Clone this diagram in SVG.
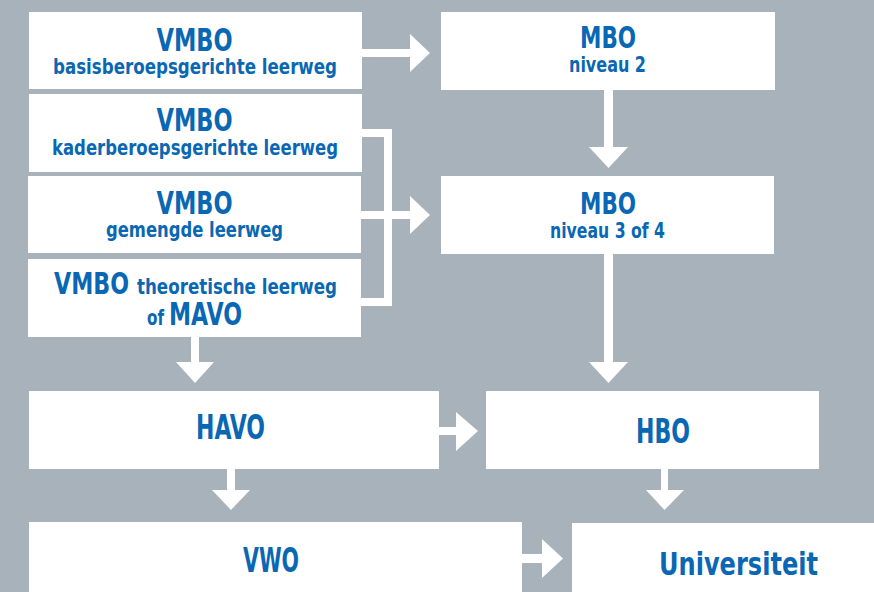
<svg xmlns="http://www.w3.org/2000/svg" width="874" height="592" viewBox="0 0 874 592">
<style>
.box{fill:#ffffff}
.t{font-family:"Liberation Sans Narrow","DejaVu Sans Condensed","Arial Narrow",sans-serif;font-weight:bold;fill:#0a67b3;text-anchor:middle}
.s{font-family:"Liberation Sans Narrow","DejaVu Sans Condensed","Arial Narrow",sans-serif;font-weight:bold;fill:#0a67b3}
.arr{fill:#ffffff}
.ln{fill:none;stroke:#ffffff;stroke-width:8;stroke-linejoin:miter}
</style>
<rect width="874" height="592" fill="#a7b2ba"/>
<g id="vmbo-basis">
<rect class="box" x="29" y="12" width="333" height="77"/>
<text class="t" x="194.5" y="51" font-size="32" textLength="76" lengthAdjust="spacingAndGlyphs">VMBO</text>
<text class="t" x="195" y="74" font-size="22" textLength="284" lengthAdjust="spacingAndGlyphs">basisberoepsgerichte leerweg</text>
</g>
<g id="vmbo-kader">
<rect class="box" x="29" y="94" width="333" height="78"/>
<text class="t" x="194.5" y="131" font-size="32" textLength="76" lengthAdjust="spacingAndGlyphs">VMBO</text>
<text class="t" x="195" y="155" font-size="22" textLength="286" lengthAdjust="spacingAndGlyphs">kaderberoepsgerichte leerweg</text>
</g>
<g id="vmbo-gemengd">
<rect class="box" x="28" y="176" width="333" height="77"/>
<text class="t" x="194.5" y="214" font-size="32" textLength="76" lengthAdjust="spacingAndGlyphs">VMBO</text>
<text class="t" x="194.5" y="237" font-size="22" textLength="177" lengthAdjust="spacingAndGlyphs">gemengde leerweg</text>
</g>
<g id="vmbo-theoretisch">
<rect class="box" x="28" y="259" width="333" height="78"/>
<text class="s" x="54" y="294" font-size="31" textLength="75" lengthAdjust="spacingAndGlyphs">VMBO</text>
<text class="s" x="137" y="294" font-size="21" textLength="200" lengthAdjust="spacingAndGlyphs">theoretische leerweg</text>
<text class="s" x="147" y="325" font-size="21" textLength="17" lengthAdjust="spacingAndGlyphs">of</text>
<text class="s" x="169" y="325" font-size="32" textLength="73" lengthAdjust="spacingAndGlyphs">MAVO</text>
</g>
<g id="mbo2">
<rect class="box" x="441" y="12" width="334" height="78"/>
<text class="t" x="608" y="48" font-size="31" textLength="56" lengthAdjust="spacingAndGlyphs">MBO</text>
<text class="t" x="607.5" y="72" font-size="21" textLength="77" lengthAdjust="spacingAndGlyphs">niveau 2</text>
</g>
<g id="mbo34">
<rect class="box" x="441" y="176" width="333" height="78"/>
<text class="t" x="608" y="214" font-size="31" textLength="56" lengthAdjust="spacingAndGlyphs">MBO</text>
<text class="t" x="607.5" y="238" font-size="21" textLength="115" lengthAdjust="spacingAndGlyphs">niveau 3 of 4</text>
</g>
<g id="havo">
<rect class="box" x="29" y="391" width="410" height="78"/>
<text class="t" x="230.5" y="439" font-size="33" textLength="69" lengthAdjust="spacingAndGlyphs">HAVO</text>
</g>
<g id="hbo">
<rect class="box" x="486" y="391" width="333" height="78"/>
<text class="t" x="663" y="443" font-size="34" textLength="54" lengthAdjust="spacingAndGlyphs">HBO</text>
</g>
<g id="vwo">
<rect class="box" x="29" y="522" width="493" height="80"/>
<text class="t" x="271" y="572" font-size="34" textLength="56" lengthAdjust="spacingAndGlyphs">VWO</text>
</g>
<g id="universiteit">
<rect class="box" x="572" y="523" width="310" height="80"/>
<text class="t" x="738.5" y="575" font-size="32" textLength="159" lengthAdjust="spacingAndGlyphs">Universiteit</text>
</g>
<g id="connectors">
<rect class="arr" x="361" y="49" width="50" height="8"/>
<polygon class="arr" points="410,34 430,53 410,72"/>
<path class="ln" d="M362,133 H388 V302 H361"/>
<path class="ln" d="M361,215 H411"/>
<polygon class="arr" points="410,196 430,215 410,234"/>
<rect class="arr" x="604" y="89" width="9" height="59"/>
<polygon class="arr" points="589,147 628,147 608.5,168"/>
<rect class="arr" x="604" y="253" width="9" height="110"/>
<polygon class="arr" points="589,362 628,362 608.5,383"/>
<rect class="arr" x="191" y="336" width="8" height="27"/>
<polygon class="arr" points="176,362 214,362 195,383"/>
<rect class="arr" x="438" y="427" width="19" height="8"/>
<polygon class="arr" points="456,412 478,431 456,451"/>
<rect class="arr" x="227" y="468" width="8" height="23"/>
<polygon class="arr" points="212,490 250,490 231,510"/>
<rect class="arr" x="661" y="468" width="7" height="23"/>
<polygon class="arr" points="646,490 684,490 664.5,510"/>
<rect class="arr" x="521" y="554" width="22" height="9"/>
<polygon class="arr" points="542,539 563,558.5 542,578"/>
</g>
</svg>
